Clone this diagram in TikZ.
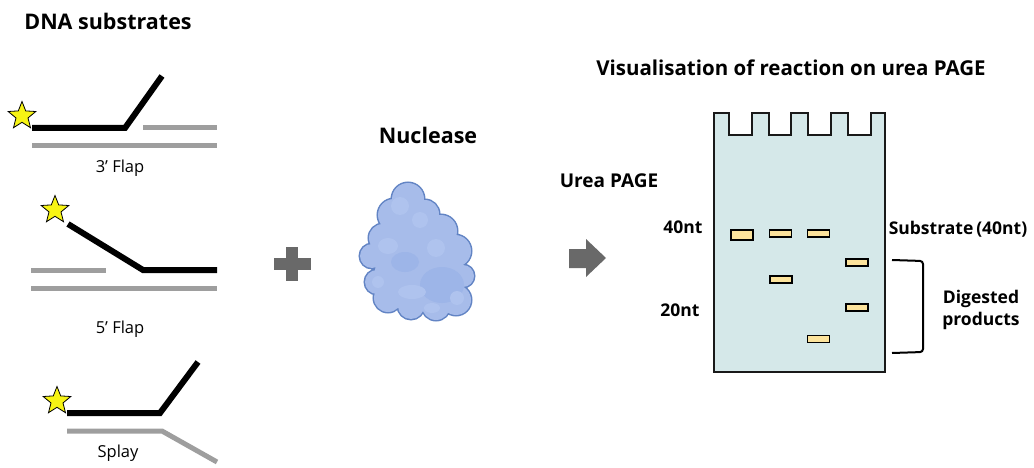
\documentclass[tikz,border=0pt]{standalone}
\usepackage{fontspec}
\setmainfont{Open Sans}
\usetikzlibrary{shapes.geometric}

\definecolor{strandgray}{HTML}{9E9E9E}
\definecolor{signgray}{HTML}{696969}
\definecolor{starfill}{HTML}{F7F414}
\definecolor{gelfill}{HTML}{D5E8E9}
\definecolor{bandfill}{HTML}{FCE39C}
\definecolor{protfill}{HTML}{A7BCEA}
\definecolor{protline}{HTML}{6284C4}
\definecolor{protlight}{HTML}{AFC3EE}
\definecolor{protdark}{HTML}{9DB5E8}

\tikzset{
  heading/.style={font=\fontsize{21.5}{24}\selectfont\bfseries, inner sep=0pt},
  gellabel/.style={font=\fontsize{17.5}{20}\selectfont\bfseries, inner sep=0pt},
  caption/.style={font=\fontsize{16.5}{19}\selectfont, inner sep=0pt},
  labelled/.style={star, star points=5, star point ratio=2.3, minimum size=29pt,
    inner sep=0pt, fill=starfill, draw=black, line width=0.8pt},
  labstrand/.style={line width=6pt, black, miter limit=4},
  template/.style={line width=5pt, strandgray},
  band/.style={rectangle, fill=bandfill, draw=black, line width=1.6pt,
    inner sep=0pt, minimum width=22pt, minimum height=7pt},
  sign/.style={fill=signgray, draw=none},
}

\begin{document}
\begin{tikzpicture}[x=1pt, y=-1pt]
\useasboundingbox (0,0) rectangle (1034,468);

% ---- titles ----
\node[heading] (tsub) at (108,21) {DNA substrates};
\node[heading] (tnuc) at (428,135) {Nuclease};
\node[heading, font=\fontsize{20.5}{24}\selectfont\bfseries] (tvis) at (791,68) {Visualisation of reaction on urea PAGE};
\node[heading, font=\fontsize{19}{22}\selectfont\bfseries] (turea) at (609,181) {Urea PAGE};

% ---- 3' flap ----
\coordinate (fa1) at (32,128); \coordinate (fa2) at (125,128); \coordinate (fa3) at (162,76);
\coordinate (fb1) at (143,128); \coordinate (fb2) at (217,128);
\coordinate (fc1) at (32,146); \coordinate (fc2) at (217,146);
\draw[template] (fb1) -- (fb2);
\draw[template] (fc1) -- (fc2);
\draw[labstrand] (fa1) -- (fa2) -- (fa3);
\node[labelled] (s1) at (22,116) {};
\node[caption] (c1) at (120,168) {3’ Flap};

% ---- 5' flap ----
\coordinate (ga1) at (68,224); \coordinate (ga2) at (143,270); \coordinate (ga3) at (217,270);
\coordinate (gb1) at (31,270); \coordinate (gb2) at (106,270);
\coordinate (gc1) at (31,288); \coordinate (gc2) at (217,288);
\draw[template] (gb1) -- (gb2);
\draw[template] (gc1) -- (gc2);
\draw[labstrand] (ga1) -- (ga2) -- (ga3);
\node[labelled] (s2) at (55,210) {};
\node[caption] (c2) at (120,329) {5’ Flap};

% ---- splay ----
\coordinate (ha1) at (67,413); \coordinate (ha2) at (160,413); \coordinate (ha3) at (198,362);
\coordinate (hb1) at (67,431); \coordinate (hb2) at (162,431); \coordinate (hb3) at (217,462);
\draw[template] (hb1) -- (hb2) -- (hb3);
\draw[labstrand] (ha1) -- (ha2) -- (ha3);
\node[labelled] (s3) at (57,401) {};
\node[caption] (c3) at (118,453) {Splay};

% ---- plus sign ----
\path[sign] (286,247) rectangle (298,281);
\path[sign] (274,258) rectangle (311,270);

% ---- nuclease (union of lobes with an outline) ----
\def\lobes{
  (408,199) circle (16) (394,215) circle (16) (425,214) circle (14)
  (410,218) circle (10)
  (441,231) circle (16) (455,251) circle (16) (463,276) circle (11)
  (456,300) circle (15) (436,306) circle (14) (411,306) circle (13)
  (388,298) circle (14) (377,282) circle (12) (372,256) circle (12)
  (383,238) circle (14) (410,246) circle (30) (428,272) circle (30)
  (398,276) circle (24)}
\draw[protline, line width=3pt] \lobes;
\fill[protfill] \lobes;
\fill[protdark] (442,285) ellipse (22 and 18);
\fill[protdark] (405,262) ellipse (14 and 10);
\fill[protlight] (400,206) circle (9) (420,220) circle (8) (388,246) ellipse (10 and 8)
  (412,292) ellipse (14 and 7) (436,248) circle (9) (457,298) circle (7)
  (378,282) circle (6) (432,308) ellipse (8 and 5);

% ---- arrow ----
\path[sign] (569,249) -- (586,249) -- (586,239) -- (606,258) -- (586,277)
  -- (586,268) -- (569,268) -- cycle;

% ---- gel ----
\draw[fill=gelfill, draw=black!90, line width=1.8pt, line join=miter]
  (714,372) -- (714,113) -- (729,113) -- (729,135) -- (752,135) -- (752,113)
  -- (769,113) -- (769,135) -- (791,135) -- (791,113) -- (808,113) -- (808,135)
  -- (831,135) -- (831,113) -- (848,113) -- (848,135) -- (871,135) -- (871,113)
  -- (885,113) -- (885,372) -- cycle;

\node[band, minimum height=10pt] (b1) at (742,235) {};
\node[band] (b2) at (780.5,233.5) {};
\node[band] (b3) at (818.5,233.5) {};
\node[band] (b4) at (857,262.5) {};
\node[band] (b5) at (781,279.5) {};
\node[band] (b6) at (857,307.5) {};
\node[band] (b7) at (818.5,339) {};

\node[gellabel] (m40) at (683,227) {40nt};
\node[gellabel] (m20) at (680,310) {20nt};
\node[gellabel] (lsub) at (958,229) {Substrate\,(40nt)};

% ---- bracket ----
\coordinate (k1) at (892,260); \coordinate (k2) at (923,261);
\coordinate (k3) at (923,352); \coordinate (k4) at (892,353);
\draw[line width=2pt, rounded corners=3pt] (k1) -- (k2) -- (k3) -- (k4);
\node[gellabel, align=center, font=\fontsize{17.5}{22}\selectfont\bfseries] (ldig) at (981,310) {Digested\\products};

\end{tikzpicture}
\end{document}
